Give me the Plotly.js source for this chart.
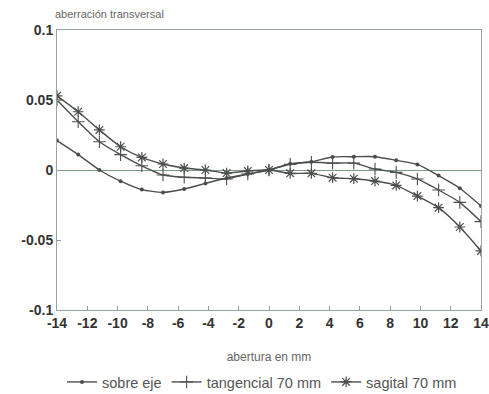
<!DOCTYPE html>
<html>
<head>
<meta charset="utf-8">
<script src="https://cdn.plot.ly/plotly-3.0.1.min.js"></script>
<style>html,body{margin:0;padding:0;background:#fff;}#chart{width:489px;height:394px;}</style>
</head>
<body>
<div id="chart"></div>
<script>
// Aperture (mm) positions of the sampled points
const apertura = [-14, -12.6, -11.2, -9.8, -8.4, -7, -5.6, -4.2, -2.8, -1.4, 0,
                  1.4, 2.8, 4.2, 5.6, 7, 8.4, 9.8, 11.2, 12.6, 14];
const sobreEje = [0.021, 0.011, 0.0, -0.008, -0.014, -0.016, -0.0136, -0.0096, -0.0057, -0.0029, 0,
                  0.0045, 0.0059, 0.0093, 0.0095, 0.0095, 0.0069, 0.004, -0.004, -0.013, -0.0257];
const tangencial = [0.05, 0.0345, 0.0202, 0.011, 0.003, -0.0036, -0.0052, -0.0057, -0.0064, -0.0029, 0,
                    0.004, 0.0055, 0.0049, 0.0049, 0.0007, -0.0017, -0.0064, -0.0143, -0.0231, -0.0369];
const sagital = [0.053, 0.0416, 0.0286, 0.0166, 0.009, 0.0043, 0.0014, 0.0, -0.0022, -0.0007, 0,
                 -0.0024, -0.0024, -0.0055, -0.0062, -0.0079, -0.011, -0.0186, -0.0269, -0.0407, -0.0578];
const xTicks = [-14, -12, -10, -8, -6, -4, -2, 0, 2, 4, 6, 8, 10, 12, 14];
const yTicks = [-0.1, -0.05, 0, 0.05, 0.1];
const yTickText = ['-0.1', '-0.05', '0', '0.05', '0.1'];

const lineColor = '#4a4f4c';
const common = {x: apertura, mode: 'lines+markers', type: 'scatter',
  line: {color: lineColor, width: 1.4, shape: 'spline', smoothing: 0.6}};

const traces = [
  Object.assign({}, common, {y: sobreEje, name: 'sobre eje',
    marker: {symbol: 'circle', size: 4, color: lineColor}}),
  Object.assign({}, common, {y: tangencial, name: 'tangencial 70 mm',
    marker: {symbol: 'cross-thin-open', size: 9, color: lineColor, line: {width: 1.1, color: lineColor}}}),
  Object.assign({}, common, {y: sagital, name: 'sagital 70 mm',
    marker: {symbol: 'asterisk-open', size: 9, color: lineColor, line: {width: 1.2, color: lineColor}}})
];

const tickFont = {family: 'Liberation Sans, Arial, sans-serif', size: 14, color: '#333', weight: 'bold'};
const layout = {
  width: 489, height: 394,
  margin: {l: 57, r: 8, t: 30, b: 84},
  paper_bgcolor: '#fff', plot_bgcolor: '#fff',
  showlegend: true,
  font: {family: 'Liberation Sans, Arial, sans-serif', color: '#555'},
  title: {text: 'aberración transversal', font: {size: 11, color: '#666'},
          x: 55/489, xanchor: 'left', y: 1 - 14/394, yanchor: 'middle'},
  xaxis: {range: [-14, 14], tickvals: xTicks, ticktext: xTicks.map(String),
          ticks: 'inside', ticklen: 4, tickcolor: '#999', showgrid: false, zeroline: false,
          showline: true, linecolor: '#9aa59a', linewidth: 1, mirror: true,
          tickfont: tickFont, automargin: false,
          title: {text: 'abertura en mm', font: {size: 12, color: '#666'}, standoff: 22}},
  yaxis: {range: [-0.1, 0.1], tickvals: yTicks, ticktext: yTickText,
          ticks: 'inside', ticklen: 4, tickcolor: '#999', showgrid: false,
          zeroline: true, zerolinecolor: '#7f9a84', zerolinewidth: 1,
          showline: true, linecolor: '#9aa59a', linewidth: 1, mirror: true,
          tickfont: tickFont, automargin: false},
  legend: {orientation: 'h', xref: 'container', yref: 'container', x: 262/489, xanchor: 'center',
           y: 12/394, yanchor: 'middle',
           font: {size: 14.5, color: '#555'}, itemwidth: 30, tracegroupgap: 0}
};
Plotly.newPlot('chart', traces, layout, {staticPlot: true, displayModeBar: false});
</script>
</body>
</html>
